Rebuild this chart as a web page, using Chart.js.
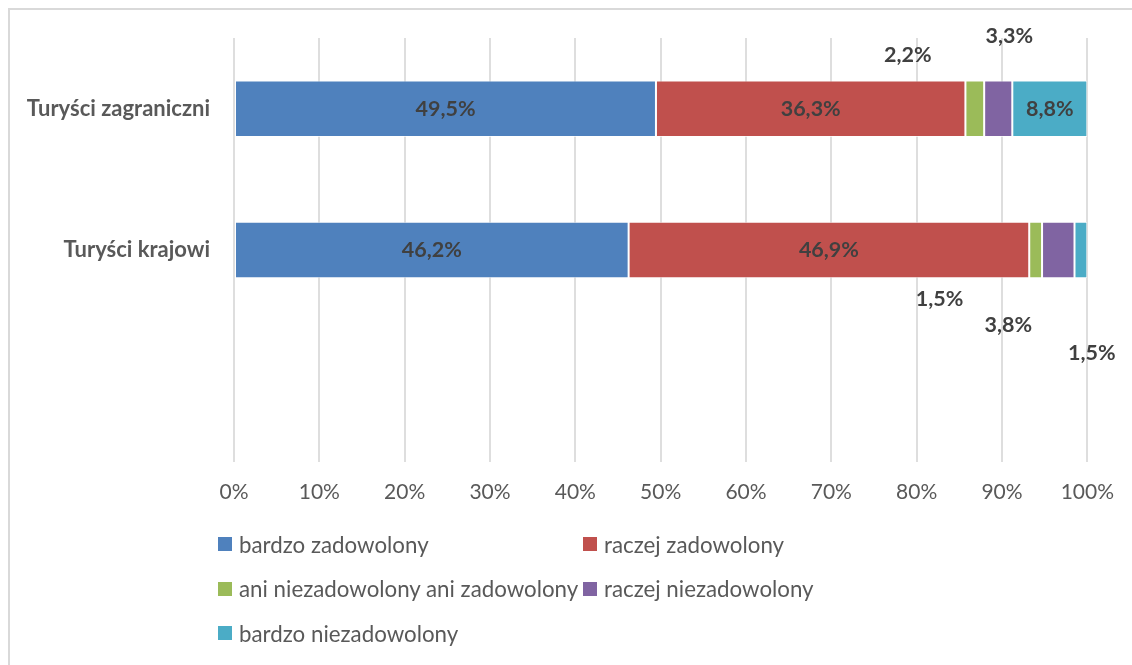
<!DOCTYPE html>
<html lang="pl">
<head>
<meta charset="UTF-8">
<title>Zadowolenie turystów</title>
<script src="https://cdn.jsdelivr.net/npm/chart.js@4.4.1/dist/chart.umd.min.js"></script>
<style>
  html, body { margin: 0; padding: 0; background: #fff; }
  body { width: 1132px; height: 665px; position: relative; overflow: hidden; font-family: Lato, sans-serif; }
  .frame { position: absolute; left: 8px; top: 8px; width: 1200px; height: 700px; border: 2px solid #d9d9d9; }
  #chart { position: absolute; left: 0; top: 0; }
  .legend { position: absolute; left: 218px; top: 522px; display: grid; grid-template-columns: 365px 365px; grid-auto-rows: 44.5px; }
  .legend-item { display: flex; align-items: center; font-size: 22.3px; color: #595959; white-space: nowrap; }
  .legend-box { width: 14px; height: 14px; margin-right: 7px; flex: none; }
</style>
</head>
<body>
<div class="frame"></div>
<canvas id="chart" width="1132" height="665"></canvas>
<div class="legend" id="legend"></div>

<script>
// kategorie (trzecia pusta - zostawia wolne miejsce pod słupkami)
const categories = ['Turyści zagraniczni', 'Turyści krajowi', ''];
const seriesNames = ['bardzo zadowolony', 'raczej zadowolony', 'ani niezadowolony ani zadowolony', 'raczej niezadowolony', 'bardzo niezadowolony'];
const seriesColors = ['#4F81BD', '#C0504D', '#9BBB59', '#8064A2', '#4BACC6'];

// odsetki odpowiedzi: [zagraniczni, krajowi]
const bardzoZadowolony = [49.5, 46.2];
const raczejZadowolony = [36.3, 46.9];
const aniAni = [2.2, 1.5];
const raczejNiezadowolony = [3.3, 3.8];
const bardzoNiezadowolony = [8.8, 1.5];
const seriesValues = [bardzoZadowolony, raczejZadowolony, aniAni, raczejNiezadowolony, bardzoNiezadowolony];

const xTickValues = [0, 10, 20, 30, 40, 50, 60, 70, 80, 90, 100];

// przesunięcia etykiet wąskich segmentów, w px od środka segmentu ("seria-kategoria")
const labelShift = {
    '2-0': [-67, -54],
    '3-0': [11, -73],
    '2-1': [-96, 49],
    '3-1': [-50, 75],
    '4-1': [11, 103]
};

// wykres 100% - każdy wiersz sprowadzamy do sumy 100
const rowTotals = categories.map((c, j) => seriesValues.reduce((s, arr) => s + (arr[j] || 0), 0));

const datasets = seriesValues.map((vals, i) => ({
    label: seriesNames[i],
    data: vals.map((v, j) => v / rowTotals[j] * 100),
    backgroundColor: seriesColors[i],
    borderColor: 'rgba(255, 255, 255, 0.7)',
    borderWidth: 1,
    borderSkipped: false,
    barPercentage: 0.4,
    categoryPercentage: 1
}));

// etykiety z wartościami na segmentach
const segmentLabels = {
    id: 'segmentLabels',
    afterDatasetsDraw(chart) {
        const ctx = chart.ctx;
        ctx.save();
        ctx.font = 'bold 21.5px Lato';
        ctx.fillStyle = '#404040';
        ctx.textAlign = 'center';
        ctx.textBaseline = 'middle';
        chart.data.datasets.forEach((ds, i) => {
            chart.getDatasetMeta(i).data.forEach((bar, j) => {
                const v = seriesValues[i][j];
                if (v == null) return;
                const shift = labelShift[i + '-' + j] || [0, 0];
                const x = (bar.x + bar.base) / 2 + shift[0];
                ctx.fillText(v.toFixed(1).replace('.', ',') + '%', x, bar.y + shift[1]);
            });
        });
        ctx.restore();
    }
};

const chart = new Chart(document.getElementById('chart'), {
    type: 'bar',
    data: { labels: categories, datasets: datasets },
    plugins: [segmentLabels],
    options: {
        indexAxis: 'y',
        responsive: false,
        animation: false,
        layout: { padding: { top: 38, right: 39, left: 0, bottom: 0 } },
        plugins: {
            legend: { display: false },
            tooltip: { enabled: false }
        },
        scales: {
            x: {
                stacked: true,
                min: 0,
                max: 100,
                afterBuildTicks: function (scale) {
                    scale.ticks = xTickValues.map(v => ({ value: v }));
                },
                afterFit: function (scale) {
                    scale.height = 665 - 462;
                },
                grid: { color: '#dedede', lineWidth: 2, drawTicks: false },
                border: { display: false },
                ticks: {
                    padding: 18,
                    maxRotation: 0,
                    color: '#595959',
                    font: { family: 'Lato', size: 21 },
                    callback: function (value) {
                        return value + '%';
                    }
                }
            },
            y: {
                stacked: true,
                afterFit: function (scale) {
                    scale.width = 234;
                },
                grid: { display: false, drawTicks: false },
                border: { display: false },
                ticks: {
                    padding: 24,
                    color: '#595959',
                    font: { family: 'Lato', size: 22, weight: 'bold' }
                }
            }
        }
    }
});

// legenda w dwóch kolumnach
const legendEl = document.getElementById('legend');
chart.data.datasets.forEach(ds => {
    const item = document.createElement('div');
    item.className = 'legend-item';
    item.innerHTML = '<span class="legend-box" style="background:' + ds.backgroundColor + '"></span>' + ds.label;
    legendEl.appendChild(item);
});
</script>
</body>
</html>
